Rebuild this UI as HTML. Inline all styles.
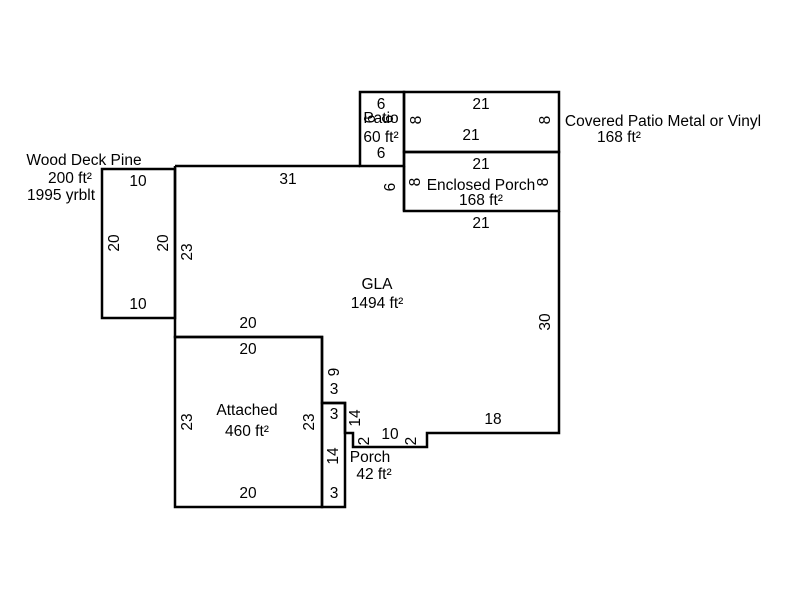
<!DOCTYPE html>
<html><head><meta charset="utf-8"><style>body{margin:0;background:#fff}svg{display:block}text{font-family:"Liberation Sans",Arial,sans-serif;font-size:15.5px;fill:#000}</style></head><body>
<svg width="800" height="600" viewBox="0 0 800 600">
<g fill="none" stroke="#000" stroke-width="2.5">
<rect x="102" y="169" width="73" height="149"/>
<rect x="360" y="92" width="44" height="74"/>
<rect x="404" y="92" width="155" height="60"/>
<rect x="404" y="152" width="155" height="59"/>
<polyline points="175,166 360,166"/>
<polyline points="404,166 404,211"/>
<polyline points="559,211 559,433 427,433 427,447 353,447 353,433 345,433 345,403 322,403 322,337 175,337 175,166"/>
<rect x="175" y="337" width="147" height="170"/>
<rect x="322" y="403" width="23" height="104"/>
</g>
<g text-anchor="middle">
<text x="84" y="165">Wood Deck Pine</text>
<text x="70" y="183">200 ft²</text>
<text x="61" y="200">1995 yrblt</text>
<text x="138" y="186">10</text>
<text x="138" y="309">10</text>
<text transform="translate(119,243) rotate(-90)">20</text>
<text transform="translate(168,243) rotate(-90)">20</text>
<text transform="translate(192,252) rotate(-90)">23</text>
<text x="288" y="184">31</text>
<text x="381" y="109">6</text>
<text x="381" y="123">Patio</text>
<text x="381" y="142">60 ft²</text>
<text x="381" y="158">6</text>
<text transform="translate(375,119) rotate(-90)">6</text>
<text transform="translate(393,119) rotate(-90)">6</text>
<text x="481" y="109">21</text>
<text x="471" y="140">21</text>
<text transform="translate(421,120) rotate(-90)">8</text>
<text transform="translate(550,120) rotate(-90)">8</text>
<text x="663" y="126">Covered Patio Metal or Vinyl</text>
<text x="619" y="142">168 ft²</text>
<text x="481" y="169">21</text>
<text x="481" y="190">Enclosed Porch</text>
<text x="481" y="205">168 ft²</text>
<text transform="translate(420,182) rotate(-90)">8</text>
<text transform="translate(548,182) rotate(-90)">8</text>
<text transform="translate(395,187) rotate(-90)">6</text>
<text x="481" y="228">21</text>
<text x="377" y="289">GLA</text>
<text x="377" y="308">1494 ft²</text>
<text transform="translate(550,322) rotate(-90)">30</text>
<text x="248" y="328">20</text>
<text x="248" y="354">20</text>
<text transform="translate(192,422) rotate(-90)">23</text>
<text transform="translate(314,422) rotate(-90)">23</text>
<text x="247" y="415">Attached</text>
<text x="247" y="436">460 ft²</text>
<text x="248" y="498">20</text>
<text transform="translate(339,372) rotate(-90)">9</text>
<text x="334" y="394">3</text>
<text x="334" y="419">3</text>
<text transform="translate(338,456) rotate(-90)">14</text>
<text x="334" y="498">3</text>
<text transform="translate(360,418) rotate(-90)">14</text>
<text transform="translate(369,441) rotate(-90)">2</text>
<text x="390" y="439">10</text>
<text transform="translate(416,441) rotate(-90)">2</text>
<text x="493" y="424">18</text>
<text x="370" y="462">Porch</text>
<text x="374" y="479">42 ft²</text>
</g>
</svg>
</body></html>
